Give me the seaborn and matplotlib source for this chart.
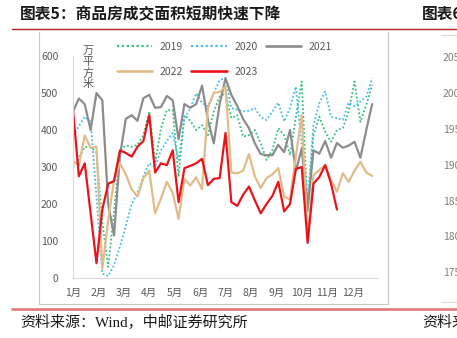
import matplotlib
matplotlib.use("Agg")
import matplotlib.pyplot as plt
from matplotlib.lines import Line2D
import numpy as np
import pandas as pd
import seaborn as sns

sns.set_style("white")
plt.rcParams["font.family"] = ["Noto Sans CJK SC", "DejaVu Sans"]

# Weekly transaction area of commercial housing, 10k square metres
sales_2019 = [300, 325, 354, 354, 340, 150, 30, 180, 345, 358,
              355, 360, 386, 450, 310, 405, 454, 454, 274, 440,
              425, 400, 413, 386, 450, 490, 500, 432, 440, 382,
              386, 400, 364, 319, 346, 405, 386, 332, 436, 531,
              180, 386, 436, 395, 368, 400, 405, 450, 531, 422,
              468, 522]
sales_2020 = [385, 410, 436, 423, 220, 12, 5, 35, 85, 140,
              200, 230, 275, 310, 300, 345, 370, 392, 319, 432,
              459, 499, 473, 464, 500, 535, 540, 459, 455, 450,
              452, 459, 435, 427, 450, 474, 423, 460, 517, 355,
              211, 413, 473, 504, 436, 432, 427, 474, 464, 477,
              490, 540]
sales_2021 = [450, 485, 470, 400, 500, 480, 200, 115, 330, 430,
              440, 425, 486, 495, 460, 462, 492, 480, 375, 470,
              460, 470, 520, 427, 364, 470, 540, 495, 465, 430,
              405, 364, 335, 332, 332, 360, 340, 400, 290, 350,
              185, 345, 336, 370, 325, 365, 352, 358, 368, 325,
              400, 470]
sales_2022 = [315, 305, 385, 352, 355, 25, 157, 265, 310, 280,
              240, 220, 270, 290, 175, 215, 260, 230, 160, 268,
              250, 272, 240, 460, 500, 503, 517, 285, 283, 290,
              335, 275, 243, 270, 280, 297, 220, 212, 330, 440,
              105, 278, 292, 305, 265, 233, 283, 260, 290, 314,
              285, 276]
sales_2023 = [455, 275, 310, 175, 40, 185, 255, 262, 345, 338,
              328, 355, 370, 440, 285, 310, 305, 345, 205, 297,
              303, 310, 322, 251, 268, 270, 392, 205, 195, 225,
              247, 210, 175, 200, 222, 260, 180, 200, 295, 300,
              95, 255, 273, 305, 255, 185]

years = ["2019", "2020", "2021", "2022", "2023"]
month_labels = [f"{m}月" for m in range(1, 13)]
y_ticks = [0, 100, 200, 300, 400, 500, 600]
next_panel_ticks = ["205", "200", "195", "190", "185", "180", "175"]

W, H = 457, 338
fig = plt.figure(figsize=(W / 100, H / 100), dpi=100)
fig.patch.set_facecolor("white")


def fx(px):
    return px / W


def fy(py):
    return 1 - py / H


ax = fig.add_axes([fx(73), fy(278), fx(378) - fx(73), fy(56) - fy(278)])

styles = {
    "2019": dict(color="#33C17B", lw=1.3, ls=(0, (1, 1.2))),
    "2020": dict(color="#45BCEB", lw=1.3, ls=(0, (1, 1.2))),
    "2021": dict(color="#8C8C8C", lw=1.6, ls="-"),
    "2022": dict(color="#E2BB8B", lw=1.6, ls="-"),
    "2023": dict(color="#E8141C", lw=1.6, ls="-"),
}
series = {"2019": sales_2019, "2020": sales_2020, "2021": sales_2021,
          "2022": sales_2022, "2023": sales_2023}

handles = {}
for yr in years:
    vals = series[yr]
    df = pd.DataFrame({"week": np.arange(len(vals)), "area": vals})
    st = styles[yr]
    sns.lineplot(data=df, x="week", y="area", ax=ax, color=st["color"],
                 linewidth=st["lw"], linestyle=st["ls"], label=yr,
                 legend=False)
    handles[yr] = Line2D([0], [0], color=st["color"], lw=st["lw"] + 0.3,
                         ls=st["ls"])

ax.set_xlim(0, 52)
ax.set_ylim(0, 600)
ax.set_xlabel("")
ax.set_ylabel("")
ax.set_xticks([i * 52 / 12 for i in range(12)])
ax.set_xticklabels(month_labels)
ax.set_yticks(y_ticks)
ax.set_yticklabels([str(v) for v in y_ticks])
for s in ["top", "right"]:
    ax.spines[s].set_visible(False)
for s in ["left", "bottom"]:
    ax.spines[s].set_color("#D9D9D9")
    ax.spines[s].set_linewidth(0.8)
ax.tick_params(axis="y", length=3.6, width=0.8, color="#D9D9D9",
               pad=7, labelsize=7.5, labelcolor="#595959")
ax.tick_params(axis="x", length=2.5, width=0.8, color="#D9D9D9",
               pad=5, labelsize=7.5, labelcolor="#595959")
ax.grid(False)

# unit label, stacked vertically
fig.text(fx(88), fy(46), "万\n平\n方\n米", ha="center", va="top",
         fontsize=8, color="#595959", linespacing=1.1)

order = ["2019", "2022", "2020", "2023", "2021"]
fig.legend([handles[k] for k in order], order, ncol=3, frameon=False,
           loc="upper left", bbox_to_anchor=(fx(117), fy(42)),
           fontsize=7.5, labelcolor="#595959", handlelength=3.4,
           handletextpad=0.7, columnspacing=0.8, labelspacing=1.45,
           borderpad=0, borderaxespad=0)

# page furniture: title, rules, frame, source
fig.text(fx(20), fy(14), "图表5：商品房成交面积短期快速下降", ha="left",
         va="center", fontsize=11.3, fontweight="bold", color="#1A1A1A")
fig.text(fx(422), fy(14), "图表6", ha="left", va="center",
         fontsize=11.3, fontweight="bold", color="#1A1A1A")
fig.add_artist(Line2D([fx(12), 1], [fy(29.3), fy(29.3)], color="#B01E1E",
                      lw=1.0))
fig.add_artist(Line2D([fx(12), 1], [fy(309), fy(309)], color="#E07F7F",
                      lw=2.0))
frame = "#C8C8C8"
fig.add_artist(Line2D([fx(39), fx(39)], [fy(32), fy(304)], color=frame, lw=0.8))
fig.add_artist(Line2D([fx(388), fx(388)], [fy(32), fy(304)], color=frame, lw=0.8))
fig.add_artist(Line2D([fx(39), fx(388)], [fy(304), fy(304)], color=frame, lw=0.8))
fig.add_artist(Line2D([fx(441), 1], [fy(35), fy(35)], color="#D9D9D9", lw=0.8))
fig.add_artist(Line2D([fx(441), 1], [fy(302), fy(302)], color="#D9D9D9", lw=0.8))
for i, lab in enumerate(next_panel_ticks):
    fig.text(fx(443), fy(58 + i * 35.9), lab, ha="left", va="center",
             fontsize=7.5, color="#7F7F7F")

src_fam = ["Liberation Serif", "Noto Sans CJK SC"]
fig.text(fx(20), fy(323), "资料来源：Wind，中邮证券研究所", ha="left",
         va="center", fontsize=10.8, family=src_fam, color="#1A1A1A")
fig.text(fx(422), fy(323), "资料来源", ha="left", va="center",
         fontsize=10.8, family=src_fam, color="#1A1A1A")

fig.savefig("out.png", dpi=100, facecolor="white")
